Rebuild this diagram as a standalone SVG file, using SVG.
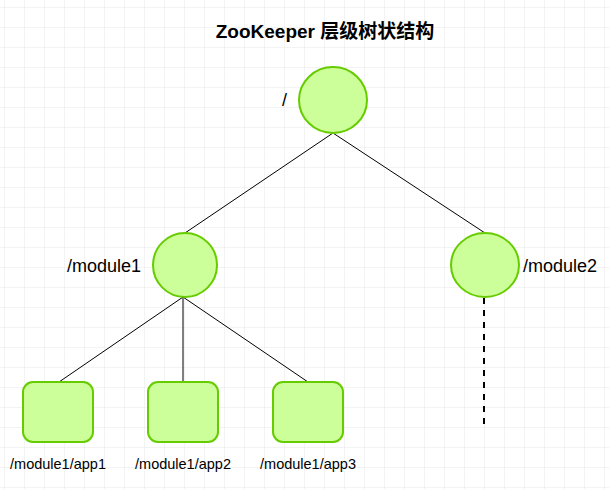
<svg xmlns="http://www.w3.org/2000/svg" width="609" height="489" viewBox="0 0 609 489">
<defs>
<pattern id="g" x="5" y="8" width="20" height="20" patternUnits="userSpaceOnUse"><path d="M20 0V20M0 20H20" fill="none" stroke="#e6e6e6" stroke-width="1"/></pattern>
</defs>
<style>
.n{fill:#ccff99;stroke:#66cc00;stroke-width:2}
.t{font-family:"Liberation Sans",Arial,sans-serif;font-size:18px;fill:#000}
.s{font-family:"Liberation Sans",Arial,sans-serif;font-size:14.5px;fill:#000;text-anchor:middle}
.c{stroke:#000;stroke-width:1;fill:none}
</style>
<rect width="609" height="489" fill="#fff"/>
<rect width="609" height="489" fill="url(#g)"/>
<text x="325" y="38" text-anchor="middle" font-family="'Liberation Sans','Noto Sans CJK SC',sans-serif" font-size="19" font-weight="bold">ZooKeeper 层级树状结构</text>
<g id="connectors">
<line class="c" x1="333" y1="133" x2="185" y2="233"/>
<line class="c" x1="333" y1="133" x2="485" y2="233"/>
<line class="c" x1="183" y1="297" x2="59" y2="382"/>
<line class="c" x1="183" y1="297" x2="183" y2="382"/>
<line class="c" x1="183" y1="297" x2="308" y2="382"/>
<line x1="484" y1="298" x2="484" y2="425" stroke="#000" stroke-width="2" stroke-dasharray="6 6"/>
</g>
<g id="root"><ellipse class="n" cx="333" cy="100" rx="34" ry="33"/><text class="t" x="282" y="106">/</text></g>
<g id="module1"><ellipse class="n" cx="185" cy="265" rx="32" ry="32"/><text class="t" x="141" y="272" text-anchor="end">/module1</text></g>
<g id="module2"><ellipse class="n" cx="485" cy="265" rx="34" ry="32"/><text class="t" x="523" y="272">/module2</text></g>
<g id="app1"><rect class="n" x="23" y="382" width="70" height="60" rx="10"/><text class="s" x="58" y="469">/module1/app1</text></g>
<g id="app2"><rect class="n" x="148" y="382" width="70" height="60" rx="10"/><text class="s" x="183" y="469">/module1/app2</text></g>
<g id="app3"><rect class="n" x="273" y="382" width="70" height="60" rx="10"/><text class="s" x="308" y="469">/module1/app3</text></g>
</svg>
